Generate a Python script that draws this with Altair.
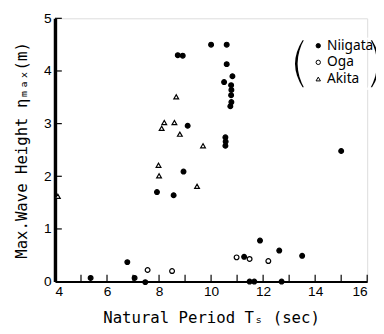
import altair as alt
import pandas as pd

# --- data ---
niigata_T = [10.0, 10.6, 10.6, 10.82, 10.5, 10.77, 10.78, 10.77, 10.78, 10.74, 10.55, 10.56, 10.55,
             8.72, 8.91, 9.1, 8.94, 7.92, 8.56, 6.78, 5.37, 7.06, 7.47, 11.88, 11.27, 12.62, 13.5,
             15.0, 11.48, 11.66, 12.71]
niigata_H = [4.5, 4.5, 4.13, 3.9, 3.79, 3.73, 3.64, 3.54, 3.41, 3.33, 2.74, 2.66, 2.58,
             4.3, 4.29, 2.96, 2.09, 1.70, 1.64, 0.37, 0.07, 0.07, -0.01, 0.78, 0.47, 0.59, 0.49,
             2.48, 0.0, 0.0, 0.0]
oga_T = [7.56, 8.5, 10.98, 11.48, 12.2]
oga_H = [0.22, 0.2, 0.46, 0.43, 0.39]
akita_T = [4.11, 8.66, 8.2, 8.1, 8.59, 8.8, 9.69, 7.98, 8.0, 9.46]
akita_H = [1.62, 3.51, 3.02, 2.91, 3.02, 2.80, 2.58, 2.21, 2.01, 1.81]

series = ["Niigata", "Oga", "Akita"]
x_labels = [4, 6, 8, 10, 12, 14, 16]
y_labels = [0, 1, 2, 3, 4, 5]
x_ticks = [5, 6, 7, 8, 9, 10, 11, 12, 13, 14, 15, 16]
y_ticks = [1, 2, 3, 4, 5]

W, H = 319, 269

rows = []
for name, ts, hs in [("Niigata", niigata_T, niigata_H), ("Oga", oga_T, oga_H), ("Akita", akita_T, akita_H)]:
    for t, h in zip(ts, hs):
        rows.append({"T": t, "H": h, "site": name})
df = pd.DataFrame(rows)

xscale = alt.Scale(domain=[4, 16], nice=False, zero=False)
yscale = alt.Scale(domain=[0, 5], nice=False)

legend = alt.Legend(title=None, orient="none", legendX=262, legendY=21,
                    labelFont="Noto Sans", labelFontSize=14, labelColor="black",
                    symbolSize=20, symbolStrokeWidth=1,
                    rowPadding=3, labelOffset=2)

points = alt.Chart(df).mark_point(size=24, strokeWidth=1.2, opacity=1).encode(
    x=alt.X("T:Q", scale=xscale,
            axis=alt.Axis(values=x_labels, ticks=False, grid=False, domainWidth=2, domainColor="black",
                          labelFont="Liberation Sans", labelFontSize=14, labelColor="black", labelPadding=3,
                          title="Natural Period Tₛ (sec)", titleFont="DejaVu Sans Mono", titleFontSize=16,
                          titleFontWeight="normal", titleColor="black", titlePadding=12)),
    y=alt.Y("H:Q", scale=yscale,
            axis=alt.Axis(values=y_labels, format="d", ticks=False, grid=False, domainWidth=3.5,
                          domainColor="black", labelFont="Liberation Sans", labelFontSize=14,
                          labelColor="black", labelPadding=4,
                          title="Max.Wave Height ηₘₐₓ(m)", titleFont="DejaVu Sans Mono", titleFontSize=16,
                          titleFontWeight="normal", titleColor="black", titlePadding=14)),
    shape=alt.Shape("site:N", scale=alt.Scale(domain=series, range=["circle", "circle", "triangle-up"]),
                    legend=legend),
    fill=alt.Fill("site:N", scale=alt.Scale(domain=series, range=["black", "white", "white"]),
                  legend=legend),
    stroke=alt.Stroke("site:N", scale=alt.Scale(domain=series, range=["black", "black", "black"]),
                      legend=legend),
)

xt = alt.Chart(pd.DataFrame({"v": x_ticks})).mark_rule(color="black", strokeWidth=1.2).encode(
    x=alt.X("v:Q", scale=xscale), y=alt.value(H), y2=alt.value(H - 7))
yt = alt.Chart(pd.DataFrame({"v": y_ticks})).mark_rule(color="black", strokeWidth=1.2).encode(
    y=alt.Y("v:Q", scale=yscale), x=alt.value(0), x2=alt.value(7))

parens = alt.Chart(pd.DataFrame({"p": ["(", ")"], "px": [250, 327]})).mark_text(
    font="DejaVu Sans", fontSize=56, color="black", stroke="white", strokeWidth=2.6,
    baseline="middle", align="center").encode(
    text="p:N", x=alt.X("px:Q", scale=None), y=alt.value(47))

chart = alt.layer(xt, yt, points, parens).properties(
    width=W, height=H, autosize="none",
    padding={"left": 48, "top": 7, "right": 9, "bottom": 50},
).configure_view(stroke=None).configure(background="white")

chart.save("out.html", embed_options={"renderer": "svg", "actions": False})
